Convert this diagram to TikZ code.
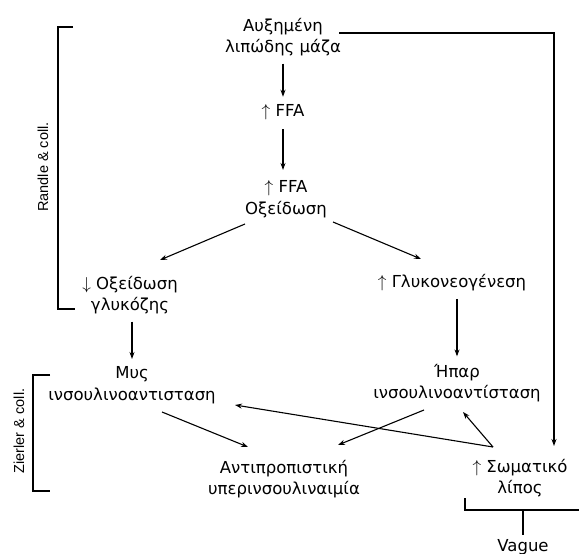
\documentclass[tikz,border=0pt]{standalone}
\usepackage{fontspec}
\setmainfont{DejaVu Sans}
\newfontfamily\labelfont{Liberation Sans}
\usetikzlibrary{arrows.meta}
\begin{document}
\begin{tikzpicture}[x=1pt,y=-1pt,
  line width=1.1pt,>={Stealth[length=7pt,width=5pt]},
  main node/.style={align=center,font=\fontsize{16.5}{21.5}\selectfont,inner sep=4pt},
  ref label/.style={rotate=90,font=\labelfont\fontsize{14.5}{16}\selectfont,inner sep=0pt}]
  \useasboundingbox (0,0) rectangle (579,554);
  \node[main node] (mass) at (283,37) {Αυξημένη\\λιπώδης μάζα};
  \node[main node] (ffa) at (283,112) {$\uparrow$ FFA};
  \node[main node] (ox) at (286,199) {$\uparrow$ FFA\\Οξείδωση};
  \node[main node] (glucox) at (130,295) {$\downarrow$ Οξείδωση\\γλυκόζης};
  \node[main node] (gluco) at (452,283) {$\uparrow$ Γλυκονεογένεση};
  \node[main node] (muscle) at (132,385) {Μυς\\ινσουλινοαντισταση};
  \node[main node] (liver) at (457,383) {Ήπαρ\\ινσουλινοαντίσταση};
  \node[main node] (hyper) at (284,479) {Αντιπροπιστική\\υπερινσουλιναιμία};
  \node[main node] (fat) at (520,478) {$\uparrow$ Σωματικό\\λίπος};
  \node[main node] (vague) at (523,547) {Vague};
  \node[ref label] (randle) at (43,167) {Randle \& coll.};
  \node[ref label] (zierler) at (19,431) {Zierler \& coll.};
  \coordinate (brk) at (523,510);

  \path[->,shorten <=3pt,shorten >=3pt]
   (mass) edge (ffa)
   (ffa) edge[shorten <=5pt,shorten >=6pt] (ffa |- ox.north)
   (glucox.south -| muscle) edge (muscle)
   (gluco.south -| liver) edge (liver);
  \draw[->] ([shift={(-41,25)}]ox.center) -- ([shift={(30,-35)}]glucox.center);
  \draw[->] ([shift={(47,23)}]ox.center) -- ([shift={(-31,-24)}]gluco.center);
  \draw[->] ([shift={(30,27)}]muscle.center) -- ([shift={(-36,-32)}]hyper.center);
  \draw[->] ([shift={(-33,27)}]liver.center) -- ([shift={(54,-34)}]hyper.center);
  \draw[->] ([shift={(-27,-31)}]fat.center) -- ([shift={(103,20)}]muscle.center);
  \draw[->] ([shift={(-27,-31)}]fat.center) -- ([shift={(6,29)}]liver.center);
  \draw[->] ([shift={(-6,-4)}]mass.east) -| ([shift={(34,-32)}]fat.center);

  % brackets
  \draw (73,27) -- (58,27) -- (58,309) -- (75,309);
  \draw (50,375) -- (33,375) -- (33,491) -- (50,491);
  \draw ([shift={(-58,-12)}]brk) |- ([shift={(56,0)}]brk);
  \draw (brk) -- (vague);
\end{tikzpicture}
\end{document}
